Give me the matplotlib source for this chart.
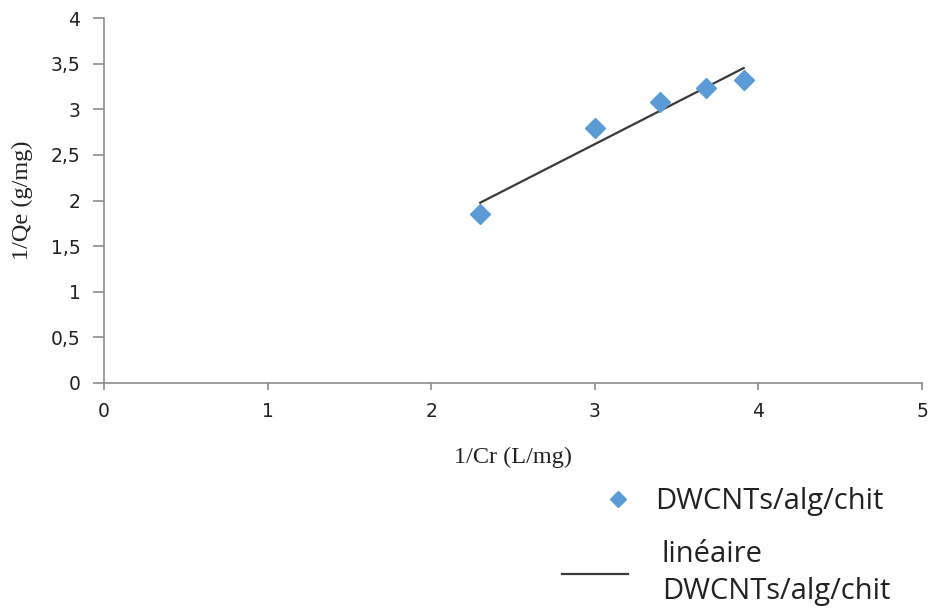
import numpy as np
import matplotlib
matplotlib.use("Agg")
import matplotlib.pyplot as plt
from matplotlib.ticker import FuncFormatter

# Data
inv_cr = [2.30, 3.00, 3.40, 3.68, 3.91]      # 1/Cr (L/mg)
inv_qe = [1.85, 2.79, 3.08, 3.23, 3.32]      # 1/Qe (g/mg)
series_label = "DWCNTs/alg/chit"
fit_label = "linéaire\nDWCNTs/alg/chit"
x_ticks = [0, 1, 2, 3, 4, 5]
y_ticks = [0, 0.5, 1, 1.5, 2, 2.5, 3, 3.5, 4]

# linear trend line (least squares), as Excel does
slope, intercept = np.polyfit(inv_cr, inv_qe, 1)
fit_x = np.array([min(inv_cr), max(inv_cr)])
fit_y = slope * fit_x + intercept

fig = plt.figure(figsize=(9.31, 6.11), dpi=100)
ax = fig.add_axes([104/931, 1-383/611, 818/931, 365/611])

mk, = ax.plot(inv_cr, inv_qe, linestyle="none", marker="D", markersize=10,
              color="#5B9BD5", label=series_label, zorder=3)
ln, = ax.plot(fit_x, fit_y, color="#3a3a3a", linewidth=1.6, label=fit_label, zorder=2)

ax.set_xlim(0, 5)
ax.set_ylim(0, 4)
ax.set_xticks(x_ticks)
ax.set_yticks(y_ticks)
fmt = FuncFormatter(lambda v, p: (f"{v:g}").replace(".", ","))
ax.xaxis.set_major_formatter(fmt)
ax.yaxis.set_major_formatter(fmt)

for s in ["top", "right"]:
    ax.spines[s].set_visible(False)
for s in ["left", "bottom"]:
    ax.spines[s].set_color("#8c8c8c")
    ax.spines[s].set_linewidth(1.2)

ax.tick_params(axis="x", direction="out", length=5, width=1.2, color="#8c8c8c",
               labelsize=13.5, pad=9, labelcolor="#222222")
ax.tick_params(axis="y", direction="out", length=8, width=1.2, color="#8c8c8c",
               labelsize=13.5, pad=9, labelcolor="#222222")
for lab in ax.get_xticklabels() + ax.get_yticklabels():
    lab.set_family("DejaVu Sans")

ax.set_xlabel("1/Cr (L/mg)", family="Liberation Serif", fontsize=17.5, color="#222222")
ax.set_ylabel("1/Qe (g/mg)", family="Liberation Serif", fontsize=17.5, color="#222222")
ax.xaxis.label.set_va("center")
ax.yaxis.label.set_va("center")
ax.xaxis.set_label_coords(0.5, (383-457)/365)
ax.yaxis.set_label_coords((22-104)/818, 0.5)

FS = 21
fs_px = FS * 100 / 72
prop = {"family": "Open Sans", "size": FS}

# legend entry 1: marker
leg1 = ax.legend(handles=[mk], loc="center left",
                 bbox_to_anchor=((618 - fs_px * 0.5) / 931, 1 - 502 / 611),
                 bbox_transform=fig.transFigure, frameon=False, prop=prop,
                 handlelength=1.0, handletextpad=(655 - 618 - fs_px * 0.5) / fs_px,
                 borderpad=0, borderaxespad=0, markerscale=0.85,
                 labelcolor="#222222")
ax.add_artist(leg1)

# legend entry 2: trend line
hl = (628 - 562) / fs_px
leg2 = ax.legend(handles=[ln], loc="center left",
                 bbox_to_anchor=(562 / 931, 1 - 573 / 611),
                 bbox_transform=fig.transFigure, frameon=False, prop=prop,
                 handlelength=hl, handletextpad=(662 - 628) / fs_px,
                 borderpad=0, borderaxespad=0, labelcolor="#222222")
for t in leg2.get_texts():
    t.set_linespacing(1.38)

fig.savefig("out.png", dpi=100)
